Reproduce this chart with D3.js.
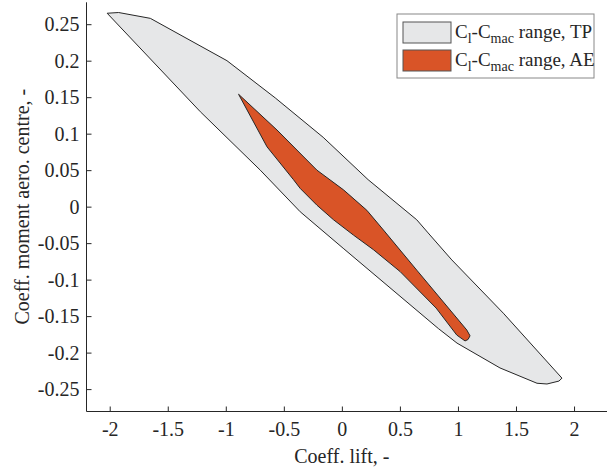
<!DOCTYPE html>
<html>
<head>
<meta charset="utf-8">
<title>Cl-Cmac range</title>
<style>
  body { margin: 0; background: #fff; }
  svg text { font-family: "Liberation Serif", "Times New Roman", serif; fill: #262626; }
</style>
</head>
<body>
<div class="plot_container"></div>
<script src="https://cdn.jsdelivr.net/npm/d3@7"></script>
<script>
// outline of the TP range, [Cl, Cmac]
var tpRange = [
  [-2.022, 0.265], [-1.923, 0.266], [-1.650, 0.258], [-0.990, 0.200],
  [-0.574, 0.149], [-0.161, 0.095], [0.226, 0.037], [0.645, -0.018],
  [0.743, -0.036], [0.947, -0.073], [1.391, -0.146], [1.896, -0.235],
  [1.870, -0.239], [1.767, -0.243], [1.681, -0.242], [1.362, -0.221],
  [0.992, -0.187], [0.831, -0.167], [0.011, -0.057], [-0.359, -0.007],
  [-0.703, 0.050], [-1.219, 0.130]
];
// outline of the AE range
var aeRange = [
  [-0.890, 0.154], [-0.559, 0.105], [-0.215, 0.050], [0.014, 0.023],
  [0.215, -0.005], [0.358, -0.032], [0.645, -0.087], [1.076, -0.169],
  [1.104, -0.177], [1.087, -0.182], [1.061, -0.184], [0.990, -0.176],
  [0.812, -0.139], [0.502, -0.089], [0.272, -0.059], [0.100, -0.039],
  [-0.072, -0.018], [-0.215, 0.002], [-0.359, 0.025], [-0.417, 0.037],
  [-0.645, 0.082]
];
var xTicks = [-2, -1.5, -1, -0.5, 0, 0.5, 1, 1.5, 2];
var yTicks = [-0.25, -0.2, -0.15, -0.1, -0.05, 0, 0.05, 0.1, 0.15, 0.2, 0.25];
var seriesNames = ["range, TP", "range, AE"];

var width = 612, height = 470;
var plotLeft = 86.5, plotRight = 607, plotTop = 2.3, plotBottom = 411.5;

var svg = d3.select(".plot_container").append("svg")
    .attr("width", width)
    .attr("height", height);

var x = d3.scaleLinear().domain([-2.2, 2.284]).range([plotLeft, plotRight]);
var y = d3.scaleLinear().domain([-0.2807, 0.28]).range([plotBottom, plotTop]);

var line = d3.line()
    .x(function(d){ return x(d[0]); })
    .y(function(d){ return y(d[1]); })
    .curve(d3.curveLinearClosed);

svg.append("path")
    .attr("d", line(tpRange))
    .style("fill", "#e6e7e8")
    .style("stroke", "#262626")
    .style("stroke-width", 1);

svg.append("path")
    .attr("d", line(aeRange))
    .style("fill", "#d95427")
    .style("stroke", "#262626")
    .style("stroke-width", 1);

// axes, ticks pointing inwards
var xAxis = svg.append("g")
    .attr("transform", "translate(0," + plotBottom + ")")
    .call(d3.axisBottom(x).tickValues(xTicks).tickSize(-5).tickPadding(10)
        .tickFormat(function(d){ return String(d); }));
var yAxis = svg.append("g")
    .attr("transform", "translate(" + plotLeft + ",0)")
    .call(d3.axisLeft(y).tickValues(yTicks).tickSize(-5).tickPadding(7)
        .tickFormat(function(d){ return String(d); }));

[xAxis, yAxis].forEach(function(g){
    g.select(".domain").remove();
    g.selectAll("line").style("stroke", "#262626");
    g.selectAll("text").style("font-size", "20px")
        .style("font-family", "'Liberation Serif', serif").attr("fill", "#262626");
});
svg.append("line")
    .attr("x1", plotLeft).attr("x2", plotRight).attr("y1", plotBottom).attr("y2", plotBottom)
    .style("stroke", "#262626");
svg.append("line")
    .attr("x1", plotLeft).attr("x2", plotLeft).attr("y1", plotTop).attr("y2", plotBottom)
    .style("stroke", "#262626");

svg.append("text")
    .attr("x", x(0))
    .attr("y", 463)
    .attr("text-anchor", "middle")
    .style("font-size", "20px")
    .text("Coeff. lift, -");

svg.append("text")
    .attr("transform", "translate(29," + y(0) + ") rotate(-90)")
    .attr("text-anchor", "middle")
    .style("font-size", "20px")
    .text("Coeff. moment aero. centre, -");

// legend
var legend = svg.append("g").attr("transform", "translate(397,14)");
legend.append("rect")
    .attr("width", 197).attr("height", 64)
    .style("fill", "#fff")
    .style("stroke", "#888")
    .style("stroke-width", 1);

var swatchFill = ["#e6e7e8", "#d95427"];
seriesNames.forEach(function(name, i){
    var row = legend.append("g").attr("transform", "translate(0," + (8 + i * 28) + ")");
    row.append("rect")
        .attr("x", 6).attr("y", 0)
        .attr("width", 48).attr("height", 21)
        .style("fill", swatchFill[i])
        .style("stroke", "#555")
        .style("stroke-width", 1);
    var t = row.append("text")
        .attr("x", 58).attr("y", 16)
        .style("font-size", "19px");
    t.append("tspan").text("C");
    t.append("tspan").attr("dy", 5).style("font-size", "14px").text("l");
    t.append("tspan").attr("dy", -5).text("-C");
    t.append("tspan").attr("dy", 5).style("font-size", "14px").text("mac");
    t.append("tspan").attr("dy", -5).text(" " + name);
});
</script>
</body>
</html>
